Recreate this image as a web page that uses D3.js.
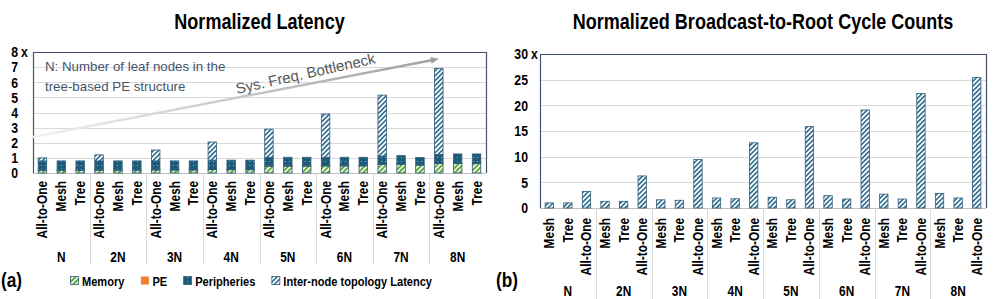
<!DOCTYPE html>
<html>
<head>
<meta charset="utf-8">
<script src="https://cdn.jsdelivr.net/npm/d3@7"></script>
<style>
    body { margin: 0; background: #fff; }
    svg text { font-family: "Liberation Sans", Arial, sans-serif; fill: #000; }
</style>
</head>
<body>
<svg id="chart" width="996" height="299"></svg>
<script>
// groups of leaf nodes, shared by both panels
const groups = ["N", "2N", "3N", "4N", "5N", "6N", "7N", "8N"];

// (a) normalized latency, bars per group: All-to-One, Mesh, Tree
const latencyCats = ["All-to-One", "Mesh", "Tree"];
const latencyKeys = ["Memory", "PE", "Peripheries", "Inter-node topology Latency"];
const memoryLat = [0.17, 0.17, 0.17, 0.18, 0.18, 0.18, 0.2, 0.2, 0.2, 0.22, 0.22, 0.22,
    0.45, 0.45, 0.45, 0.47, 0.47, 0.47, 0.57, 0.57, 0.52, 0.63, 0.63, 0.63];
const peLat = [0.02, 0.02, 0.02, 0.02, 0.02, 0.02, 0.02, 0.02, 0.02, 0.02, 0.02, 0.02,
    0.02, 0.02, 0.02, 0.02, 0.02, 0.02, 0.02, 0.02, 0.02, 0.02, 0.02, 0.02];
const periphLat = [0.61, 0.61, 0.61, 0.6, 0.6, 0.6, 0.58, 0.58, 0.58, 0.61, 0.61, 0.61,
    0.57, 0.57, 0.57, 0.55, 0.55, 0.55, 0.53, 0.56, 0.48, 0.57, 0.61, 0.61];
const interLat = [0.2, 0, 0, 0.4, 0, 0, 0.72, 0, 0, 1.2, 0, 0,
    1.86, 0, 0, 2.86, 0, 0, 4.03, 0, 0, 5.7, 0, 0];
const latencyTicks = [0, 1, 2, 3, 4, 5, 6, 7, 8];

// (b) normalized broadcast-to-root cycles, bars per group: Mesh, Tree, All-to-One
const bcastCats = ["Mesh", "Tree", "All-to-One"];
const bcastCycles = [1.0, 1.0, 3.2, 1.3, 1.3, 6.25, 1.6, 1.5, 9.45, 1.95, 1.8, 12.7,
    2.1, 1.6, 15.85, 2.4, 1.75, 19.1, 2.7, 1.75, 22.3, 2.85, 1.95, 25.4];
const bcastTicks = [0, 5, 10, 15, 20, 25, 30];

const BAR_STROKE = "#2F5C77";
const FRAME = "#44546A";
const GRID = "#D9D9D9";
const NARROW = 0.82; // no Arial Narrow installed, squeeze Liberation Sans instead

const svg = d3.select("#chart");
const defs = svg.append("defs");

// narrow bold label at x,y (optionally rotated)
function label(parent, x, y, txt, size, opts = {}) {
    const rot = opts.rotate ? ` rotate(${opts.rotate})` : "";
    return parent.append("text")
        .attr("transform", `translate(${x},${y})${rot} scale(${NARROW},1)`)
        .attr("text-anchor", opts.anchor || "start")
        .attr("dy", opts.dy || null)
        .attr("font-size", size)
        .attr("font-weight", "bold")
        .text(txt);
}

// diagonal hatch pattern
function hatch(id, color, size, lineW) {
    const p = defs.append("pattern")
        .attr("id", id)
        .attr("patternUnits", "userSpaceOnUse")
        .attr("width", size)
        .attr("height", size)
        .attr("patternTransform", "rotate(45)");
    p.append("rect").attr("width", size).attr("height", size).attr("fill", "#fff");
    p.append("rect").attr("width", lineW).attr("height", size).attr("fill", color);
}
hatch("hatchBlue", "#2A6A8C", 3.4, 1.6);
hatch("hatchGreen", "#5FA836", 3.6, 2.0);

const dots = defs.append("pattern")
    .attr("id", "dotsBlue")
    .attr("patternUnits", "userSpaceOnUse")
    .attr("width", 4)
    .attr("height", 4);
dots.append("rect").attr("width", 4).attr("height", 4).attr("fill", "#1D5B7B");
dots.append("rect").attr("x", 1).attr("y", 1).attr("width", 1).attr("height", 1).attr("fill", "#7FB2CF");

const fills = {
    "Memory": "url(#hatchGreen)",
    "PE": "#ED7D31",
    "Peripheries": "url(#dotsBlue)",
    "Inter-node topology Latency": "url(#hatchBlue)"
};

// shared panel scaffolding: frame, grid, y axis, group separators, labels
function drawPanel(opt) {
    const g = svg.append("g");
    const x0 = d3.scaleBand().domain(groups).range([opt.left, opt.right]);
    const x1 = d3.scaleBand().domain(opt.cats).range([0, x0.bandwidth()])
        .paddingInner(0.55).paddingOuter(0.275);
    const y = d3.scaleLinear().domain([0, opt.max]).range([opt.bottom, opt.top]);

    g.append("g")
        .selectAll("line")
        .data(opt.ticks.filter((t) => t > 0 && t < opt.max))
        .enter()
        .append("line")
        .attr("x1", opt.left)
        .attr("x2", opt.right)
        .attr("y1", (d) => Math.round(y(d)) + 0.5)
        .attr("y2", (d) => Math.round(y(d)) + 0.5)
        .attr("stroke", GRID);

    // frame
    g.append("path")
        .attr("d", `M${opt.left + 0.5},${opt.bottom}V${opt.top + 0.5}H${opt.right + 0.5}V${opt.bottom}`)
        .attr("fill", "none")
        .attr("stroke", FRAME)
        .attr("stroke-width", 1.2);
    g.append("line")
        .attr("x1", opt.left)
        .attr("x2", opt.right)
        .attr("y1", opt.bottom + 0.5)
        .attr("y2", opt.bottom + 0.5)
        .attr("stroke", "#BFBFBF");

    const yAxis = g.append("g")
        .attr("transform", `translate(${opt.left},0)`)
        .call(d3.axisLeft(y).tickValues(opt.ticks).tickSize(0));
    yAxis.select(".domain").remove();
    yAxis.selectAll("text")
        .attr("x", null)
        .attr("transform", `translate(${-opt.tickPad},0) scale(${NARROW},1)`)
        .attr("font-size", 15)
        .attr("font-weight", "bold")
        .attr("font-family", null);
    label(g, opt.left - opt.tickPad + 3, y(opt.max), "x", 15, { dy: "0.32em" });

    // group separators below the axis
    g.append("g")
        .selectAll("line")
        .data(groups.slice(1))
        .enter()
        .append("line")
        .attr("x1", (d) => Math.round(x0(d)) + 0.5)
        .attr("x2", (d) => Math.round(x0(d)) + 0.5)
        .attr("y1", opt.bottom)
        .attr("y2", opt.sepBottom)
        .attr("stroke", GRID);

    // category labels
    groups.forEach((grp) => {
        opt.cats.forEach((c) => {
            label(g, x0(grp) + x1(c) + x1.bandwidth() / 2 + 5, opt.bottom + opt.catPad, c, 14.5,
                { rotate: -90, anchor: "end" });
        });
        label(g, x0(grp) + x0.bandwidth() / 2, opt.groupY, grp, 14.5, { anchor: "middle" });
    });

    label(g, (opt.left + opt.right) / 2, 29, opt.title, 22, { anchor: "middle" });
    label(g, opt.tagX, 287, opt.tag, 21);

    return { g, x0, x1, y };
}

// ---------- (a) latency ----------
const a = drawPanel({
    left: 33, right: 486, top: 52, bottom: 173, max: 8,
    cats: latencyCats, ticks: latencyTicks, tickPad: 15,
    catPad: 8, groupY: 262, sepBottom: 265,
    title: "Normalized Latency", tag: "(a)", tagX: 1
});

const latencyRows = groups.flatMap((grp, gi) => latencyCats.map((c, ci) => {
    const i = gi * latencyCats.length + ci;
    return {
        grp, c,
        "Memory": memoryLat[i],
        "PE": peLat[i],
        "Peripheries": periphLat[i],
        "Inter-node topology Latency": interLat[i]
    };
}));
const stacked = d3.stack().keys(latencyKeys)(latencyRows);

a.g.append("g")
    .selectAll("g")
    .data(stacked)
    .enter()
    .append("g")
    .attr("fill", (d) => fills[d.key])
    .selectAll("rect")
    .data((d) => d.filter((s) => s[1] - s[0] > 0))
    .enter()
    .append("rect")
    .attr("x", (d) => a.x0(d.data.grp) + a.x1(d.data.c))
    .attr("width", a.x1.bandwidth())
    .attr("y", (d) => a.y(d[1]))
    .attr("height", (d) => a.y(d[0]) - a.y(d[1]))
    .attr("stroke", BAR_STROKE)
    .attr("stroke-width", 0.8);

// annotation: note and bottleneck arrow
const arrowStart = [33, a.y(2.38)];
const arrowEnd = [a.x0("8N") + a.x1("All-to-One") + a.x1.bandwidth() / 2, a.y(7.55)];
const grad = defs.append("linearGradient")
    .attr("id", "arrowGrad")
    .attr("gradientUnits", "userSpaceOnUse")
    .attr("x1", arrowStart[0]).attr("y1", arrowStart[1])
    .attr("x2", arrowEnd[0]).attr("y2", arrowEnd[1]);
grad.append("stop").attr("offset", 0).attr("stop-color", "#EEF2F6");
grad.append("stop").attr("offset", 1).attr("stop-color", "#A0A0A0");

const ang = Math.atan2(arrowEnd[1] - arrowStart[1], arrowEnd[0] - arrowStart[0]);
const lineEnd = [arrowEnd[0] - 6 * Math.cos(ang), arrowEnd[1] - 6 * Math.sin(ang)];
a.g.append("line")
    .attr("x1", arrowStart[0]).attr("y1", arrowStart[1])
    .attr("x2", lineEnd[0]).attr("y2", lineEnd[1])
    .attr("stroke", "url(#arrowGrad)")
    .attr("stroke-width", 2.5);
const head = [
    arrowEnd,
    [arrowEnd[0] - 8 * Math.cos(ang) + 3.5 * Math.sin(ang), arrowEnd[1] - 8 * Math.sin(ang) - 3.5 * Math.cos(ang)],
    [arrowEnd[0] - 8 * Math.cos(ang) - 3.5 * Math.sin(ang), arrowEnd[1] - 8 * Math.sin(ang) + 3.5 * Math.cos(ang)]
];
a.g.append("polygon")
    .attr("points", head.map((p) => p.join(",")).join(" "))
    .attr("fill", "#A0A0A0");

a.g.append("text")
    .attr("transform", "translate(237,94) rotate(-12.5)")
    .attr("font-size", 15)
    .style("fill", "#595959")
    .text("Sys. Freq. Bottleneck");

const noteLines = ["N: Number of leaf nodes in the", "tree-based PE structure"];
a.g.append("g")
    .selectAll("text")
    .data(noteLines)
    .enter()
    .append("text")
    .attr("x", 45)
    .attr("y", (d, i) => 71 + i * 20)
    .attr("font-size", 13.3)
    .style("fill", "#44546A")
    .text((d) => d);

// legend
const legend = a.g.append("g").attr("transform", "translate(70,276)");
let lx = 0;
latencyKeys.forEach((k) => {
    legend.append("rect")
        .attr("x", lx + 0.5).attr("y", 0.5)
        .attr("width", 8).attr("height", 8)
        .attr("fill", fills[k])
        .attr("stroke", k === "PE" ? "none" : BAR_STROKE)
        .attr("stroke-width", 0.8);
    const t = label(legend, lx + 12, 9.5, k, 13.5);
    lx += 12 + t.node().getComputedTextLength() * NARROW + 16;
});

// ---------- (b) broadcast-to-root ----------
const b = drawPanel({
    left: 540, right: 986, top: 54, bottom: 208, max: 30,
    cats: bcastCats, ticks: bcastTicks, tickPad: 12,
    catPad: 10, groupY: 296, sepBottom: 299,
    title: "Normalized Broadcast-to-Root Cycle Counts", tag: "(b)", tagX: 496
});

const bcastRows = groups.flatMap((grp, gi) => bcastCats.map((c, ci) => ({
    grp, c, v: bcastCycles[gi * bcastCats.length + ci]
})));

b.g.append("g")
    .selectAll("rect")
    .data(bcastRows)
    .enter()
    .append("rect")
    .attr("x", (d) => b.x0(d.grp) + b.x1(d.c))
    .attr("width", b.x1.bandwidth())
    .attr("y", (d) => b.y(d.v))
    .attr("height", (d) => b.y(0) - b.y(d.v))
    .attr("fill", "url(#hatchBlue)")
    .attr("stroke", BAR_STROKE)
    .attr("stroke-width", 0.8);
</script>
</body>
</html>
